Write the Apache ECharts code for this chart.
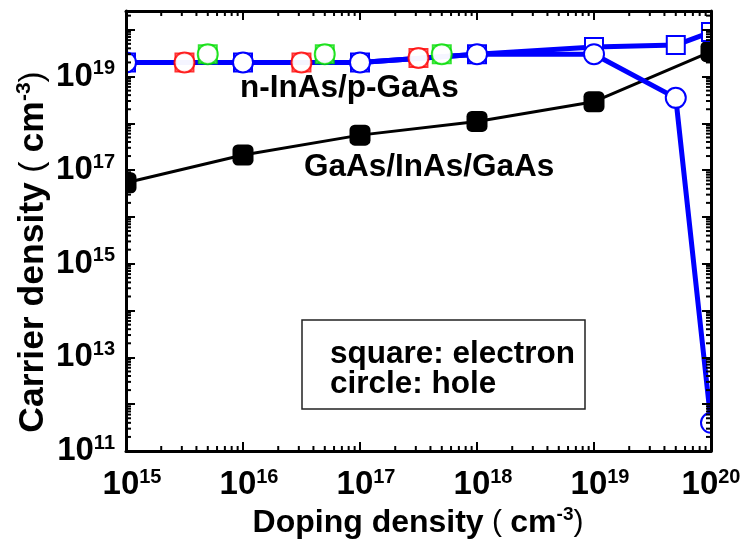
<!DOCTYPE html>
<html>
<head>
<meta charset="utf-8">
<script src="https://cdn.jsdelivr.net/npm/echarts@6/dist/echarts.min.js"></script>
<style>
  html, body { margin: 0; padding: 0; background: #ffffff; }
  #chart { width: 743px; height: 548px; }
</style>
</head>
<body>
<div id="chart"></div>
<script>
// Doping density (cm^-3) and resulting carrier densities (cm^-3)
const dopingDecades = [1e15, 1e16, 1e17, 1e18, 1e19, 1e20];
const dopingNP = [1e15, 1e16, 1e17, 1e18, 1e19, 5e19, 1e20];
const electronNP = [2.0e19, 2.0e19, 2.0e19, 3.0e19, 4.3e19, 4.7e19, 8.9e19];
const holeNP = [2.0e19, 2.0e19, 2.0e19, 3.0e19, 3.0e19, 3.5e18, 4.0e11];
const dopingRed = [3.16e15, 3.16e16, 3.16e17];
const carrierRed = [2.0e19, 2.0e19, 2.5e19];
const dopingGreen = [5e15, 5e16, 5e17];
const carrierGreen = [3.0e19, 3.0e19, 3.0e19];
const carrierQW = [5.4e16, 2.1e17, 5.6e17, 1.1e18, 2.9e18, 3.4e19];

// Axis ranges (decade exponents) and labelled exponents
const xRange = [15, 20];
const yRange = [11, 20.4];
const xTickExponents = [15, 16, 17, 18, 19, 20];
const yTickExponents = [11, 13, 15, 17, 19];

const FONT = '"Liberation Sans", Arial, Helvetica, sans-serif';
const lg = Math.log10;
const pts = (xs, ys) => xs.map((x, i) => [lg(x), lg(ys[i])]);

// log-spaced minor tick positions (2..9 x 10^n) inside a range
function minorTicks(lo, hi) {
  const out = [];
  for (let e = Math.floor(lo); e < hi; e++) {
    for (let k = 2; k <= 9; k++) {
      const v = e + Math.log10(k);
      if (v > lo && v < hi) out.push(v);
    }
  }
  return out;
}

const MAJOR = 9, MINOR = 5;

const tickRich = {
  g: { width: 12, fontSize: 12 },
  b: { fontFamily: FONT, fontWeight: 'bold', fontSize: 33, color: '#000' },
  s: { fontFamily: FONT, fontWeight: 'bold', fontSize: 20, color: '#000', padding: [0, 0, 16, 0] }
};

function axisBase(extra) {
  return Object.assign({
    type: 'value',
    z: 10,
    interval: 1,
    splitLine: { show: false },
    axisLine: { show: true, onZero: false, lineStyle: { color: '#000', width: 3 } },
    axisTick: { show: true, inside: true, length: MAJOR, lineStyle: { color: '#000', width: 2 } }
  }, extra);
}

// the last label stays inside the page; the others keep "10" over the tick
const xLabel = v => {
  if (!xTickExponents.includes(v)) return '';
  const lead = v === xRange[1] ? '' : '{g| }';
  return lead + '{b|10}{s|' + v + '}';
};

const xAxes = [
  axisBase({
    position: 'bottom', min: xRange[0], max: xRange[1],
    axisLabel: { margin: 16, formatter: xLabel, rich: tickRich }
  }),
  axisBase({ position: 'top', min: xRange[0], max: xRange[1], axisLabel: { show: false } })
];
const yAxes = [
  axisBase({
    position: 'left', min: yRange[0], max: yRange[1],
    axisLabel: {
      margin: 11, align: 'right',
      formatter: v => yTickExponents.includes(v) ? '{b|10}{s|' + v + '}' : '',
      rich: tickRich
    }
  }),
  axisBase({ position: 'right', min: yRange[0], max: yRange[1], axisLabel: { show: false } })
];

const series = [
  // GaAs/InAs/GaAs
  {
    type: 'line', name: 'GaAs/InAs/GaAs', data: pts(dopingDecades, carrierQW),
    symbol: 'roundRect', symbolSize: 21, clip: false,
    itemStyle: { color: '#000' }, lineStyle: { color: '#000', width: 3 }, z: 3
  },
  // n-InAs/p-GaAs electrons (squares)
  {
    type: 'line', name: 'electron', data: pts(dopingNP, electronNP),
    symbol: 'rect', symbolSize: 18, clip: false,
    itemStyle: { color: '#fff', borderColor: '#0000ff', borderWidth: 2 },
    lineStyle: { color: '#0000ff', width: 5 }, z: 4
  },
  // n-InAs/p-GaAs holes (circles)
  {
    type: 'line', name: 'hole', data: pts(dopingNP, holeNP),
    symbol: 'circle', symbolSize: 20, clip: false,
    itemStyle: { color: '#fff', borderColor: '#0000ff', borderWidth: 2 },
    lineStyle: { color: '#0000ff', width: 5 }, z: 5
  },
  { type: 'scatter', data: pts(dopingRed, carrierRed), symbol: 'rect', symbolSize: 18, clip: false,
    itemStyle: { color: '#fff', borderColor: '#ff0000', borderWidth: 2 }, z: 6 },
  { type: 'scatter', data: pts(dopingRed, carrierRed), symbol: 'circle', symbolSize: 20, clip: false,
    itemStyle: { color: '#fff', borderColor: '#ff0000', borderWidth: 2 }, z: 6 },
  { type: 'scatter', data: pts(dopingGreen, carrierGreen), symbol: 'rect', symbolSize: 18, clip: false,
    itemStyle: { color: '#fff', borderColor: '#00dd00', borderWidth: 2 }, z: 6 },
  { type: 'scatter', data: pts(dopingGreen, carrierGreen), symbol: 'circle', symbolSize: 20, clip: false,
    itemStyle: { color: '#fff', borderColor: '#00dd00', borderWidth: 2 }, z: 6 }
];

const txt = (text, x, y, size) => ({
  type: 'text', x: x, y: y, z: 20,
  style: { text: text, fontFamily: FONT, fontWeight: 'bold', fontSize: size, fill: '#000',
           align: 'left', verticalAlign: 'middle' }
});

const richFor = size => ({
  b: { fontFamily: FONT, fontWeight: 'bold', fontSize: size, color: '#000' },
  p: { fontFamily: FONT, fontWeight: 'normal', fontSize: size - 2, color: '#000' },
  s: { fontFamily: FONT, fontWeight: 'bold', fontSize: Math.round(size * 0.6), color: '#000',
       padding: [0, 0, Math.round(size * 0.5), 0] }
});
const titleText = name => '{b|' + name + '}{p| ( }{b|cm}{s|-3}{p|)}';

const chart = echarts.init(document.getElementById('chart'));
chart.setOption({
  animation: false,
  backgroundColor: '#ffffff',
  grid: { left: 126, right: 32, top: 11, bottom: 97, containLabel: false, outerBoundsMode: 'none' },
  xAxis: xAxes,
  yAxis: yAxes,
  series: series
});

// frame corners in pixels, from the axes' own scales
const toPx = (x, y) => chart.convertToPixel({ xAxisIndex: 0, yAxisIndex: 0 }, [x, y]);
const c0 = toPx(xRange[0], yRange[1]);
const c1 = toPx(xRange[1], yRange[0]);

// white margins hide the parts of markers that spill past the frame
const M = 14;
const strip = (x, y, w, h) => ({ type: 'rect', z: 8, silent: true,
  shape: { x: x, y: y, width: w, height: h }, style: { fill: '#fff' } });

// log minor ticks on all four sides of the frame
const minorEls = [];
const tickStyle = { stroke: '#000', lineWidth: 2 };
minorTicks(xRange[0], xRange[1]).forEach(v => {
  const px = toPx(v, yRange[0])[0];
  minorEls.push({ type: 'line', z: 12, silent: true, shape: { x1: px, y1: c1[1], x2: px, y2: c1[1] - MINOR }, style: tickStyle });
  minorEls.push({ type: 'line', z: 12, silent: true, shape: { x1: px, y1: c0[1], x2: px, y2: c0[1] + MINOR }, style: tickStyle });
});
minorTicks(yRange[0], yRange[1]).forEach(v => {
  const py = toPx(xRange[0], v)[1];
  minorEls.push({ type: 'line', z: 12, silent: true, shape: { x1: c0[0], y1: py, x2: c0[0] + MINOR, y2: py }, style: tickStyle });
  minorEls.push({ type: 'line', z: 12, silent: true, shape: { x1: c1[0], y1: py, x2: c1[0] - MINOR, y2: py }, style: tickStyle });
});

chart.setOption({
  graphic: [
    strip(c0[0] - M, c0[1] - M, M, c1[1] - c0[1] + 2 * M),
    strip(c1[0], c0[1] - M, M, c1[1] - c0[1] + 2 * M),
    strip(c0[0] - M, c0[1] - M, c1[0] - c0[0] + 2 * M, M),
    strip(c0[0] - M, c1[1], c1[0] - c0[0] + 2 * M, M),
    ...minorEls,
    txt('n-InAs/p-GaAs', 240, 88, 31.5),
    txt('GaAs/InAs/GaAs', 304, 167, 31.5),
    { type: 'rect', z: 20, shape: { x: 302, y: 320, width: 283, height: 89 },
      style: { fill: 'none', stroke: '#222', lineWidth: 1.5 } },
    txt('square: electron', 330, 354, 31.5),
    txt('circle: hole', 330, 384, 31.5),
    { type: 'text', x: 418, y: 523, z: 20,
      style: { text: titleText('Doping density'), rich: richFor(32), align: 'center', verticalAlign: 'middle' } },
    { type: 'text', x: 33, y: 252, z: 20, rotation: Math.PI / 2,
      style: { text: titleText('Carrier density'), rich: richFor(35.5), align: 'center', verticalAlign: 'middle' } }
  ]
});
</script>
</body>
</html>
